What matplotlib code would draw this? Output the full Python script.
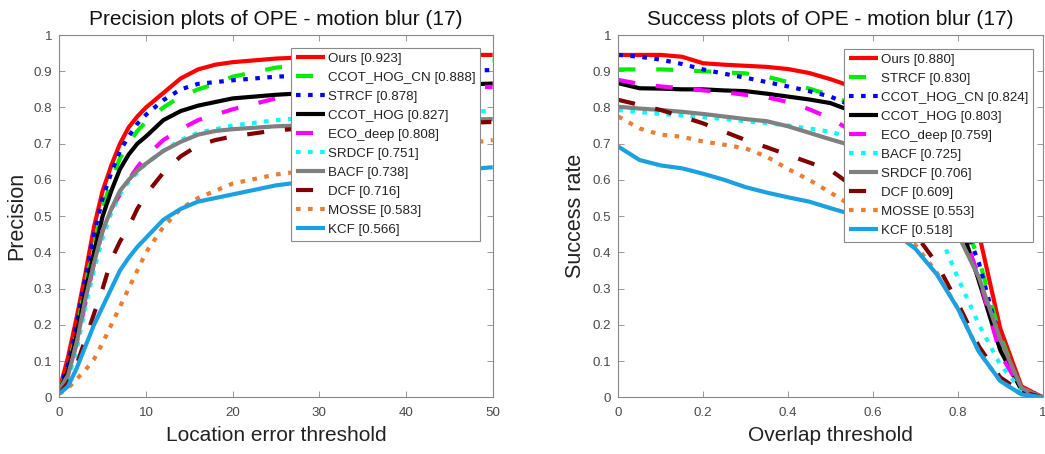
import matplotlib
matplotlib.use("Agg")
import matplotlib.pyplot as plt

plt.rcParams['font.family'] = ['Liberation Sans', 'DejaVu Sans']

# ---------------- data ----------------
names_prec = ["Ours", "CCOT_HOG_CN", "STRCF", "CCOT_HOG", "ECO_deep",
              "SRDCF", "BACF", "DCF", "MOSSE", "KCF"]
scores_prec = ["0.923", "0.888", "0.878", "0.827", "0.808",
               "0.751", "0.738", "0.716", "0.583", "0.566"]
prec_x = [0, 1, 2, 3, 4, 5, 6, 7, 8, 9, 10, 12, 14, 16, 18, 20, 25, 30, 35, 40, 45, 50]
prec_ours = [0.02, 0.11, 0.22, 0.34, 0.47, 0.57, 0.64, 0.70, 0.745, 0.775, 0.80, 0.84, 0.88, 0.905, 0.918, 0.925, 0.935, 0.94, 0.942, 0.944, 0.945, 0.945]
prec_ccot_hog_cn = [0.02, 0.08, 0.18, 0.31, 0.42, 0.52, 0.60, 0.66, 0.70, 0.735, 0.76, 0.80, 0.83, 0.85, 0.865, 0.885, 0.91, 0.92, 0.925, 0.928, 0.93, 0.93]
prec_strcf = [0.02, 0.09, 0.20, 0.33, 0.45, 0.55, 0.62, 0.68, 0.72, 0.755, 0.78, 0.82, 0.85, 0.865, 0.87, 0.875, 0.885, 0.89, 0.895, 0.90, 0.902, 0.903]
prec_ccot_hog = [0.02, 0.07, 0.17, 0.29, 0.40, 0.50, 0.57, 0.63, 0.67, 0.70, 0.72, 0.765, 0.79, 0.805, 0.815, 0.825, 0.835, 0.842, 0.85, 0.857, 0.862, 0.866]
prec_eco_deep = [0.02, 0.06, 0.15, 0.26, 0.37, 0.46, 0.52, 0.56, 0.60, 0.635, 0.665, 0.71, 0.74, 0.765, 0.78, 0.795, 0.825, 0.84, 0.848, 0.852, 0.855, 0.857]
prec_srdcf = [0.02, 0.05, 0.13, 0.25, 0.35, 0.44, 0.51, 0.56, 0.595, 0.62, 0.645, 0.68, 0.71, 0.73, 0.74, 0.75, 0.765, 0.775, 0.78, 0.785, 0.788, 0.79]
prec_bacf = [0.02, 0.06, 0.15, 0.27, 0.37, 0.46, 0.52, 0.57, 0.60, 0.625, 0.645, 0.68, 0.705, 0.725, 0.735, 0.74, 0.748, 0.752, 0.756, 0.76, 0.765, 0.768]
prec_dcf = [0.01, 0.04, 0.09, 0.16, 0.23, 0.30, 0.38, 0.43, 0.47, 0.52, 0.56, 0.62, 0.665, 0.695, 0.71, 0.72, 0.737, 0.745, 0.75, 0.753, 0.756, 0.76]
prec_mosse = [0.01, 0.025, 0.05, 0.075, 0.105, 0.15, 0.20, 0.25, 0.30, 0.35, 0.40, 0.47, 0.52, 0.55, 0.57, 0.59, 0.615, 0.63, 0.655, 0.675, 0.695, 0.71]
prec_kcf = [0.01, 0.03, 0.08, 0.14, 0.20, 0.25, 0.30, 0.35, 0.385, 0.415, 0.44, 0.49, 0.52, 0.54, 0.55, 0.56, 0.585, 0.60, 0.608, 0.615, 0.625, 0.635]

names_succ = ["Ours", "STRCF", "CCOT_HOG_CN", "CCOT_HOG", "ECO_deep",
              "BACF", "SRDCF", "DCF", "MOSSE", "KCF"]
scores_succ = ["0.880", "0.830", "0.824", "0.803", "0.759",
               "0.725", "0.706", "0.609", "0.553", "0.518"]
succ_x = [0, 0.05, 0.1, 0.15, 0.2, 0.25, 0.3, 0.35, 0.4, 0.45, 0.5, 0.55, 0.6, 0.65, 0.7, 0.75, 0.8, 0.85, 0.9, 0.95, 1.0]
succ_ours = [0.945, 0.945, 0.945, 0.94, 0.922, 0.918, 0.915, 0.912, 0.906, 0.895, 0.878, 0.858, 0.83, 0.79, 0.74, 0.67, 0.57, 0.45, 0.19, 0.03, 0.0]
succ_strcf = [0.905, 0.905, 0.905, 0.903, 0.90, 0.897, 0.894, 0.885, 0.87, 0.852, 0.834, 0.81, 0.78, 0.74, 0.69, 0.62, 0.53, 0.38, 0.17, 0.02, 0.005]
succ_ccot_hog_cn = [0.945, 0.94, 0.932, 0.92, 0.905, 0.893, 0.882, 0.87, 0.858, 0.845, 0.83, 0.805, 0.77, 0.73, 0.68, 0.61, 0.52, 0.37, 0.15, 0.02, 0.005]
succ_ccot_hog = [0.867, 0.853, 0.852, 0.85, 0.85, 0.847, 0.845, 0.838, 0.83, 0.822, 0.812, 0.79, 0.76, 0.725, 0.68, 0.62, 0.50, 0.32, 0.13, 0.02, 0.0]
succ_eco_deep = [0.876, 0.865, 0.858, 0.853, 0.847, 0.842, 0.835, 0.828, 0.815, 0.795, 0.77, 0.735, 0.70, 0.66, 0.61, 0.55, 0.50, 0.33, 0.12, 0.02, 0.0]
succ_bacf = [0.793, 0.787, 0.782, 0.778, 0.773, 0.768, 0.762, 0.757, 0.75, 0.742, 0.733, 0.715, 0.69, 0.645, 0.58, 0.47, 0.33, 0.20, 0.09, 0.02, 0.0]
succ_srdcf = [0.802, 0.797, 0.793, 0.788, 0.782, 0.775, 0.768, 0.762, 0.748, 0.73, 0.712, 0.695, 0.67, 0.64, 0.60, 0.54, 0.45, 0.33, 0.16, 0.025, 0.0]
succ_dcf = [0.821, 0.807, 0.793, 0.775, 0.756, 0.733, 0.71, 0.69, 0.669, 0.648, 0.627, 0.585, 0.55, 0.505, 0.45, 0.37, 0.26, 0.14, 0.055, 0.015, 0.0]
succ_mosse = [0.775, 0.742, 0.725, 0.719, 0.706, 0.697, 0.687, 0.664, 0.63, 0.60, 0.565, 0.528, 0.495, 0.46, 0.42, 0.345, 0.245, 0.125, 0.045, 0.008, 0.0]
succ_kcf = [0.692, 0.655, 0.64, 0.632, 0.617, 0.60, 0.58, 0.565, 0.552, 0.54, 0.522, 0.505, 0.485, 0.455, 0.41, 0.34, 0.245, 0.125, 0.045, 0.008, 0.0]

prec_x_ticks = [0, 10, 20, 30, 40, 50]
succ_x_ticks = [0, 0.2, 0.4, 0.6, 0.8, 1.0]
y_ticks = [0, 0.1, 0.2, 0.3, 0.4, 0.5, 0.6, 0.7, 0.8, 0.9, 1.0]

# ---------------- styles ----------------
SOLID = '-'
DASH = (0, (4.1, 5.0))
DOT = (0, (1.1, 1.8))
prec_styles = [('#ff0000', SOLID), ('#00ee00', DASH), ('#0000ff', DOT), ('#000000', SOLID),
               ('#ff00ff', DASH), ('#00ffff', DOT), ('#808080', SOLID), ('#800000', DASH),
               ('#ee7d31', DOT), ('#1ba1e2', SOLID)]
succ_styles = prec_styles

prec_data = [prec_ours, prec_ccot_hog_cn, prec_strcf, prec_ccot_hog, prec_eco_deep,
             prec_srdcf, prec_bacf, prec_dcf, prec_mosse, prec_kcf]
succ_data = [succ_ours, succ_strcf, succ_ccot_hog_cn, succ_ccot_hog, succ_eco_deep,
             succ_bacf, succ_srdcf, succ_dcf, succ_mosse, succ_kcf]

W, H = 1045, 454
fig = plt.figure(figsize=(W / 100, H / 100), dpi=100)
ax1 = fig.add_axes([59.3 / W, (H - 397.3) / H, 433.4 / W, 362.3 / H])
ax2 = fig.add_axes([618.3 / W, (H - 397.3) / H, 424.4 / W, 362.3 / H])

SPINE = '#888888'
TXT = '#4a4a4a'


def fmt(v):
    return '%g' % v


def setup(ax, xticks, xlim, title, xlabel, ylabel):
    ax.set_xlim(*xlim)
    ax.set_ylim(0, 1)
    ax.set_xticks(xticks)
    ax.set_xticklabels([fmt(v) for v in xticks])
    ax.set_yticks(y_ticks)
    ax.set_yticklabels([fmt(v) for v in y_ticks])
    ax.tick_params(direction='in', length=4, width=0.6, color=SPINE,
                   labelsize=9.6, labelcolor=TXT, top=True, right=True)
    ax.tick_params(axis='x', pad=7)
    ax.tick_params(axis='y', pad=5)
    for sp in ax.spines.values():
        sp.set_color(SPINE)
        sp.set_linewidth(0.8)
    ax.set_title(title, fontsize=15, color='#111111', pad=7)
    ax.set_xlabel(xlabel, fontsize=15, color='#222222', labelpad=5)
    ax.set_ylabel(ylabel, fontsize=15.5, color='#222222', labelpad=5)


def draw(ax, x, data, names, scores, styles, anchor):
    for vals, n, s, (c, ls) in zip(data, names, scores, styles):
        ax.plot(x, vals, color=c, linestyle=ls, linewidth=3,
                dash_capstyle='butt', solid_capstyle='butt',
                label=f"{n} [{s}]")
    leg = ax.legend(loc='upper right', bbox_to_anchor=anchor, fontsize=9.6,
                    frameon=True, fancybox=False, framealpha=1, edgecolor='#8a8a8a',
                    handlelength=2.2, handletextpad=0.2, labelspacing=0.5,
                    borderpad=0.35, borderaxespad=0)
    leg.get_frame().set_linewidth(0.8)
    for t in leg.get_texts():
        t.set_color('#222222')


setup(ax1, prec_x_ticks, (0, 50), "Precision plots of OPE - motion blur (17)",
      "Location error threshold", "Precision")
draw(ax1, prec_x, prec_data, names_prec, scores_prec, prec_styles, (0.971, 0.964))

setup(ax2, succ_x_ticks, (0, 1), "Success plots of OPE - motion blur (17)",
      "Overlap threshold", "Success rate")
draw(ax2, succ_x, succ_data, names_succ, scores_succ, succ_styles, (0.977, 0.961))

fig.savefig("out.png", dpi=100, facecolor='white')
